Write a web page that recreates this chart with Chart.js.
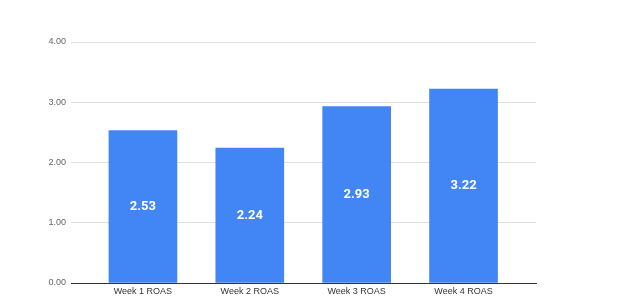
<!DOCTYPE html>
<html>
<head>
<meta charset="utf-8">
<script src="https://cdn.jsdelivr.net/npm/chart.js@4/dist/chart.umd.min.js"></script>
<style>
  html, body { margin: 0; padding: 0; background: #fff; }
  #wrap { width: 633px; height: 296px; }
</style>
</head>
<body>
<div id="wrap"><canvas id="myChart" width="633" height="296"></canvas></div>
<script>
const weeks = ['Week 1 ROAS', 'Week 2 ROAS', 'Week 3 ROAS', 'Week 4 ROAS'];
const roas = [2.53, 2.24, 2.93, 3.22];
const yTicks = [0, 1, 2, 3, 4];

const ctx = document.getElementById('myChart');

// white value labels in the middle of each bar
const barLabels = {
    id: 'barLabels',
    afterDatasetsDraw(chart) {
        const c = chart.ctx;
        const meta = chart.getDatasetMeta(0);
        c.save();
        c.fillStyle = '#ffffff';
        c.font = 'bold 13px Roboto, Arial, sans-serif';
        c.textAlign = 'center';
        c.textBaseline = 'middle';
        meta.data.forEach(function(bar, i) {
            const mid = (bar.y + bar.base) / 2;
            c.fillText(roas[i].toFixed(2), bar.x, mid);
        });
        c.restore();
    }
};

const myChart = new Chart(ctx, {
    type: 'bar',
    data: {
        datasets: [{
            data: roas.map(function(v, i) { return { x: i, y: v }; }),
            backgroundColor: '#4285f4',
            borderWidth: 0,
            barThickness: 68
        }]
    },
    options: {
        responsive: false,
        animation: false,
        layout: { padding: { top: 42, right: 97, bottom: 0, left: 0 } },
        plugins: {
            legend: { display: false },
            tooltip: { enabled: false }
        },
        scales: {
            x: {
                type: 'linear',
                offset: false,
                min: -0.673,
                max: 3.678,
                afterBuildTicks: function(scale) {
                    scale.ticks = weeks.map(function(w, i) { return { value: i }; });
                },
                afterFit: function(scale) { scale.height = 13; },
                grid: { display: false, drawTicks: false },
                border: { display: true, color: '#333333', width: 1 },
                ticks: {
                    padding: 3,
                    maxRotation: 0,
                    autoSkip: false,
                    color: '#333333',
                    font: { size: 9, family: 'Arial, sans-serif' },
                    callback: function(v) { return weeks[v]; }
                }
            },
            y: {
                min: 0,
                max: 4,
                afterBuildTicks: function(scale) {
                    scale.ticks = yTicks.map(function(v) { return { value: v }; });
                },
                afterFit: function(scale) { scale.width = 71; },
                grid: { color: '#e0e0e0', drawTicks: false },
                border: { display: false },
                ticks: {
                    padding: 5,
                    color: '#666666',
                    font: { size: 9, family: 'Arial, sans-serif' },
                    callback: function(v) { return v.toFixed(2); }
                }
            }
        }
    },
    plugins: [barLabels]
});
</script>
</body>
</html>
